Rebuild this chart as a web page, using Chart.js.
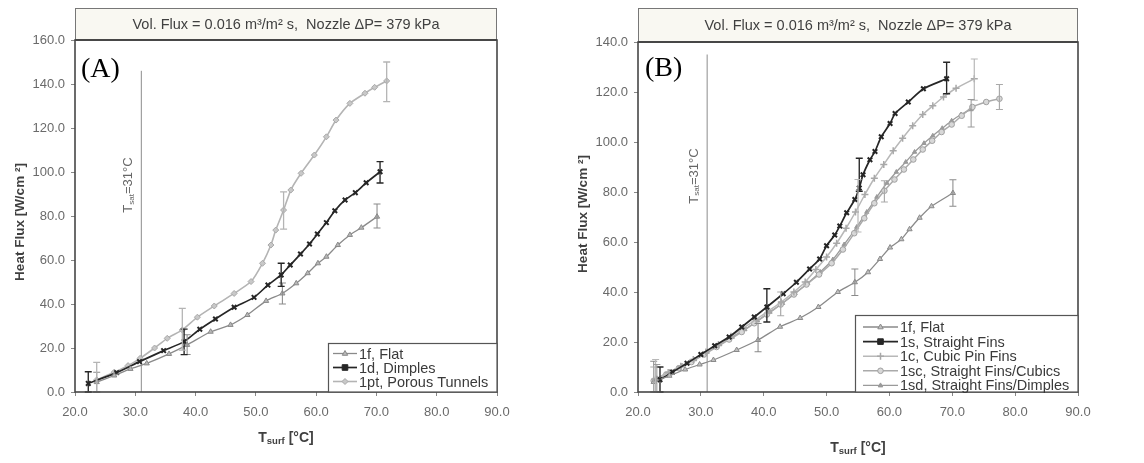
<!DOCTYPE html>
<html><head><meta charset="utf-8">
<script src="https://cdn.jsdelivr.net/npm/chart.js@4.4.1/dist/chart.umd.min.js"></script>
<style>
html,body{margin:0;padding:0;background:#fff;width:1144px;height:463px;overflow:hidden}
#a{position:absolute;left:0;top:0;width:560px;height:463px}
#b{position:absolute;left:560px;top:0;width:584px;height:463px}
</style></head><body>
<div id="a"><canvas id="ca"></canvas></div>
<div id="b"><canvas id="cb"></canvas></div>
<script>
// ---------- common ----------
const headerText = 'Vol. Flux = 0.016 m\u00B3/m\u00B2 s,  Nozzle \u0394P= 379 kPa';
const yTitle = 'Heat Flux [W/cm \u00B2]';
const xTicks = [20, 30, 40, 50, 60, 70, 80, 90];
const tSat = 31;

// ---------- panel A ----------
const flatA_T = [23.6, 26.5, 29.2, 31.9, 35.6, 38.6, 42.5, 45.8, 48.6, 51.7, 54.4, 56.7, 58.6, 60.3, 61.7, 63.6, 65.6, 67.5, 70.1];
const flatA_Q = [4.5, 7.5, 10.5, 13.0, 17.3, 21.4, 27.4, 30.5, 35.0, 41.4, 44.8, 49.4, 54.0, 58.5, 61.5, 66.8, 71.4, 74.7, 79.7];
const flatA_err = [[23.6, 0, 9], [38.6, 17, 26], [54.4, 40, 49.5], [70.1, 74.5, 85.5]];

const dimA_T = [22.2, 26.9, 30.7, 34.7, 38.1, 40.7, 43.3, 46.4, 49.7, 52.0, 54.2, 55.7, 57.4, 58.9, 60.2, 61.7, 63.1, 64.8, 66.5, 68.3, 70.6];
const dimA_Q = [3.9, 8.8, 13.8, 18.8, 22.9, 28.5, 33.2, 38.5, 43.0, 48.6, 53.2, 57.7, 62.7, 67.3, 71.8, 77.0, 82.4, 87.3, 90.6, 95.1, 100.1];
const dimA_err = [[22.2, 0, 9.2], [38.1, 17, 28.6], [54.2, 48, 58.5], [70.6, 95, 104.7]];

const porA_T = [23.6, 26.5, 28.8, 30.8, 33.2, 35.3, 37.8, 40.3, 43.1, 46.4, 49.2, 51.1, 52.5, 53.3, 54.6, 55.8, 57.5, 59.7, 61.7, 63.3, 65.6, 68.1, 69.7, 71.7];
const porA_Q = [5.5, 9.0, 12.0, 15.3, 20.0, 24.4, 28.2, 34.0, 39.1, 44.8, 50.2, 58.5, 66.8, 73.6, 82.7, 91.8, 99.4, 107.7, 116.0, 123.6, 131.2, 135.8, 138.5, 141.4];
const porA_err = [[23.6, 0, 13.5], [37.8, 19, 38], [54.6, 74, 91], [71.7, 132, 150]];

// ---------- panel B ----------
const flatB_T = [22.5, 25.0, 27.5, 29.8, 32.0, 35.7, 39.1, 42.6, 45.8, 48.7, 51.8, 54.5, 56.6, 58.5, 60.1, 61.9, 63.2, 64.8, 66.7, 70.1];
const flatB_Q = [4.0, 6.5, 9.0, 11.0, 12.8, 16.8, 20.8, 26.1, 29.6, 34.0, 40.0, 43.9, 47.9, 53.2, 57.8, 61.1, 65.1, 69.7, 74.3, 79.6];
const flatB_err = [[22.5, 0, 12.3], [39.1, 16.1, 27.4], [54.5, 38.6, 49.2], [70.1, 74.3, 84.9]];

const sB_T = [23.5, 25.5, 27.8, 30.0, 32.2, 34.5, 36.5, 38.5, 40.5, 43.1, 45.2, 47.3, 48.9, 50.0, 51.3, 52.1, 53.2, 54.5, 55.2, 55.8, 56.9, 57.7, 58.7, 60.1, 60.9, 63.0, 65.4, 69.1];
const sB_Q = [4.9, 8.0, 11.5, 15.0, 18.5, 22.0, 26.0, 30.0, 34.0, 39.3, 43.9, 49.2, 53.2, 58.5, 62.8, 66.4, 71.7, 77.0, 81.6, 86.9, 92.9, 96.2, 102.1, 107.4, 111.4, 116.0, 121.3, 125.3];
const sB_err = [[23.5, 0, 10], [40.5, 28, 41.3], [55.2, 80.3, 93.5], [69.1, 119.3, 131.9]];

const cB_T = [22.8, 24.8, 26.8, 28.8, 30.8, 32.8, 34.8, 36.8, 38.8, 40.8, 42.8, 44.8, 46.6, 48.3, 50.0, 51.6, 53.1, 54.6, 56.1, 57.6, 59.1, 60.6, 62.1, 63.7, 65.3, 66.9, 68.6, 70.6, 73.5];
const cB_Q = [5.0, 7.8, 10.3, 13.0, 16.0, 19.0, 22.3, 25.7, 29.0, 32.5, 36.0, 40.0, 44.0, 49.0, 54.0, 59.5, 65.5, 72.0, 79.0, 85.5, 91.0, 96.5, 101.5, 106.5, 111.0, 114.5, 118.0, 121.5, 125.3];
const cB_err = [[22.8, 0, 13], [55.0, 64, 85], [73.5, 116.7, 133.2]];

const scB_T = [22.5, 24.5, 26.5, 28.5, 30.5, 32.5, 34.5, 36.5, 38.5, 40.5, 42.7, 44.8, 46.8, 48.8, 50.8, 52.6, 54.4, 56.0, 57.6, 59.2, 60.8, 62.3, 63.8, 65.3, 66.8, 68.3, 69.9, 71.5, 73.2, 75.4, 77.5];
const scB_Q = [4.5, 7.0, 9.5, 12.0, 15.0, 18.0, 21.0, 24.0, 27.5, 31.0, 35.0, 39.0, 43.0, 47.0, 51.5, 57.0, 63.5, 69.5, 75.5, 80.5, 85.0, 89.0, 93.0, 97.0, 100.5, 104.0, 107.0, 110.5, 114.0, 116.0, 117.3];
const scB_err = [[22.5, 0, 10], [42.7, 30.5, 40], [59.2, 76, 84.5], [77.5, 113, 123]];

const sdB_T = [23.0, 25.0, 27.0, 29.0, 31.0, 33.0, 35.0, 37.0, 39.0, 41.0, 43.0, 45.0, 47.0, 49.0, 51.0, 52.8, 54.8, 56.4, 58.0, 59.6, 61.1, 62.6, 64.0, 65.5, 66.9, 68.4, 69.9, 71.4, 73.0];
const sdB_Q = [5.5, 8.0, 10.5, 13.0, 16.0, 19.0, 22.0, 25.0, 28.5, 32.0, 35.5, 39.5, 43.5, 48.0, 53.0, 59.0, 66.0, 72.0, 78.0, 83.6, 88.0, 92.0, 96.0, 99.5, 102.5, 105.5, 108.5, 111.0, 113.0];
const sdB_err = [[23.0, 0, 11], [73.0, 106, 117]];

// ---------- helpers ----------
const pts = (T, Q) => T.map((t, i) => ({x: t, y: Q[i]}));
const FONT = '"Liberation Sans", Arial, sans-serif';

function marker(ctx, style, x, y, r, stroke, fill, lw) {
  ctx.save();
  ctx.strokeStyle = stroke; ctx.fillStyle = fill; ctx.lineWidth = lw;
  ctx.beginPath();
  if (style === 'triangle') {
    ctx.moveTo(x, y - r); ctx.lineTo(x + r * 0.9, y + r * 0.6); ctx.lineTo(x - r * 0.9, y + r * 0.6); ctx.closePath();
    ctx.fill(); ctx.stroke();
  } else if (style === 'rect') {
    ctx.rect(x - r, y - r, 2 * r, 2 * r); ctx.fill(); ctx.stroke();
  } else if (style === 'rectRot') {
    ctx.moveTo(x, y - r); ctx.lineTo(x + r, y); ctx.lineTo(x, y + r); ctx.lineTo(x - r, y); ctx.closePath();
    ctx.fill(); ctx.stroke();
  } else if (style === 'cross') {
    ctx.moveTo(x - r, y); ctx.lineTo(x + r, y); ctx.moveTo(x, y - r); ctx.lineTo(x, y + r); ctx.stroke();
  } else if (style === 'crossRot') {
    ctx.moveTo(x - r, y - r); ctx.lineTo(x + r, y + r); ctx.moveTo(x + r, y - r); ctx.lineTo(x - r, y + r); ctx.stroke();
  } else {
    ctx.arc(x, y, r, 0, Math.PI * 2); ctx.fill(); ctx.stroke();
  }
  ctx.restore();
}

function series(label, T, Q, err, st) {
  return {
    label, data: pts(T, Q), errs: err, showLine: true, tension: 0.2,
    borderColor: st.color, borderWidth: st.lw,
    pointStyle: st.ps, pointRadius: st.r, pointBorderColor: st.pc || st.color,
    pointBackgroundColor: st.pf || st.color, pointBorderWidth: st.pw || 1,
    legendStyle: st.legend || {ps: st.ps, r: st.r, pf: st.pf || st.color, pc: st.pc || st.color, pw: st.pw || 1}
  };
}
function satLine(top) {
  return {label: '_sat', data: [{x: tSat, y: 0}, {x: tSat, y: top}], showLine: true,
          borderColor: '#8c8c8c', borderWidth: 1, pointRadius: 0, skipLegend: true};
}

// error bars
const errPlugin = {
  id: 'errbars',
  afterDatasetsDraw(chart) {
    const ctx = chart.ctx, xs = chart.scales.x, ys = chart.scales.y;
    chart.data.datasets.forEach(ds => {
      if (!ds.errs) return;
      ctx.save();
      ctx.strokeStyle = ds.borderColor; ctx.lineWidth = Math.max(1, ds.borderWidth * 0.8);
      ds.errs.forEach(([t, lo, hi]) => {
        const px = xs.getPixelForValue(t), y1 = ys.getPixelForValue(lo), y2 = ys.getPixelForValue(hi);
        ctx.beginPath();
        ctx.moveTo(px, y1); ctx.lineTo(px, y2);
        ctx.moveTo(px - 3.5, y1); ctx.lineTo(px + 3.5, y1);
        ctx.moveTo(px - 3.5, y2); ctx.lineTo(px + 3.5, y2);
        ctx.stroke();
      });
      ctx.restore();
    });
  }
};

// decoration: header, border, titles, panel label, legend
const decoPlugin = {
  id: 'deco',
  afterDraw(chart, args, o) {
    const ctx = chart.ctx, a = chart.chartArea, xs = chart.scales.x, ys = chart.scales.y;
    ctx.save();
    // header box
    ctx.fillStyle = '#f9f8f2';
    ctx.fillRect(a.left, o.headTop, a.right - a.left, a.top - o.headTop);
    ctx.strokeStyle = '#777'; ctx.lineWidth = 1;
    ctx.strokeRect(a.left + 0.5, o.headTop + 0.5, a.right - a.left - 1, a.top - o.headTop);
    ctx.fillStyle = '#404040'; ctx.font = '14.5px ' + FONT; ctx.textAlign = 'center'; ctx.textBaseline = 'middle';
    ctx.fillText(headerText, (a.left + a.right) / 2, (o.headTop + a.top) / 2 + 1);
    // plot frame
    ctx.strokeStyle = '#474747'; ctx.lineWidth = 1.6;
    ctx.strokeRect(a.left, a.top, a.right - a.left, a.bottom - a.top);
    ctx.lineWidth = 2.2; ctx.beginPath(); ctx.moveTo(a.left, a.top); ctx.lineTo(a.right, a.top); ctx.stroke();
    // panel label
    ctx.fillStyle = '#000'; ctx.font = '28px "Liberation Serif", "Times New Roman", serif';
    ctx.textAlign = 'left'; ctx.textBaseline = 'alphabetic';
    ctx.fillText(o.panel, o.panelX, o.panelY);
    // T_sat label (rotated)
    const sx = xs.getPixelForValue(tSat) - 13;
    ctx.save();
    ctx.translate(sx, o.satY); ctx.rotate(-Math.PI / 2);
    ctx.fillStyle = '#666'; ctx.textBaseline = 'middle';
    ctx.font = '13px ' + FONT;
    const w1 = ctx.measureText('T').width;
    ctx.font = '8px ' + FONT; const w2 = ctx.measureText('sat').width;
    ctx.font = '13px ' + FONT; const w3 = ctx.measureText('=31\u00B0C').width;
    let x0 = -(w1 + w2 + w3) / 2;
    ctx.textAlign = 'left';
    ctx.fillText('T', x0, 0);
    ctx.font = '8px ' + FONT; ctx.fillText('sat', x0 + w1, 3);
    ctx.font = '13px ' + FONT; ctx.fillText('=31\u00B0C', x0 + w1 + w2, 0);
    ctx.restore();
    // x title
    ctx.fillStyle = '#404040'; ctx.textBaseline = 'middle'; ctx.textAlign = 'left';
    ctx.font = 'bold 14px ' + FONT; const a1 = ctx.measureText('T').width;
    ctx.font = 'bold 9.5px ' + FONT; const a2 = ctx.measureText('surf').width;
    ctx.font = 'bold 14px ' + FONT; const a3 = ctx.measureText(' [\u00B0C]').width;
    const cx = (a.left + a.right) / 2; let xx = cx - (a1 + a2 + a3) / 2;
    ctx.fillText('T', xx, o.xTitleY);
    ctx.font = 'bold 9.5px ' + FONT; ctx.fillText('surf', xx + a1, o.xTitleY + 3);
    ctx.font = 'bold 14px ' + FONT; ctx.fillText(' [\u00B0C]', xx + a1 + a2, o.xTitleY);
    // y title
    ctx.save();
    ctx.translate(o.yTitleX, (a.top + a.bottom) / 2 + o.yTitleDy); ctx.rotate(-Math.PI / 2);
    ctx.textAlign = 'center'; ctx.font = 'bold 13.5px ' + FONT; ctx.fillStyle = '#404040';
    ctx.fillText(yTitle, 0, 0);
    ctx.restore();
    // legend
    const L = o.legend;
    const items = chart.data.datasets.filter(d => !d.skipLegend);
    ctx.fillStyle = '#fff';
    ctx.fillRect(L.x, L.y, a.right - L.x, a.bottom - L.y);
    ctx.strokeStyle = '#555'; ctx.lineWidth = 1.2;
    ctx.strokeRect(L.x + 0.5, L.y + 0.5, a.right - L.x - 0.5, a.bottom - L.y - 0.5);
    items.forEach((d, i) => {
      const y = L.row0 + i * L.dy;
      ctx.strokeStyle = d.borderColor; ctx.lineWidth = d.borderWidth;
      ctx.beginPath(); ctx.moveTo(L.lx0, y); ctx.lineTo(L.lx1, y); ctx.stroke();
      const s = d.legendStyle;
      marker(ctx, s.ps, (L.lx0 + L.lx1) / 2, y, s.r, s.pc, s.pf, s.pw);
      ctx.fillStyle = '#3a3a3a'; ctx.font = L.font + 'px ' + FONT; ctx.textAlign = 'left'; ctx.textBaseline = 'middle';
      ctx.fillText(d.label, L.tx, y + 1);
    });
    ctx.restore();
  }
};

function scales(ymax, yw) {
  const tickFont = {family: FONT, size: 13};
  return {
    x: {type: 'linear', min: 20, max: 90, afterFit: s => { s.height = 71; },
        afterBuildTicks: s => { s.ticks = xTicks.map(v => ({value: v})); },
        ticks: {callback: v => Number(v).toFixed(1), color: '#6a6a6a', font: tickFont, padding: 9, maxRotation: 0, autoSkip: false},
        grid: {display: true, drawOnChartArea: false, drawTicks: true, tickLength: 4, color: '#888'},
        border: {display: false}},
    y: {type: 'linear', min: 0, max: ymax, afterFit: s => { s.width = yw; },
        ticks: {stepSize: 20, callback: v => Number(v).toFixed(1), color: '#6a6a6a', font: tickFont, padding: 6},
        grid: {display: true, drawOnChartArea: false, drawTicks: true, tickLength: 4, color: '#888'},
        border: {display: false}}
  };
}

Chart.register(errPlugin, decoPlugin);

// ---------- chart A ----------
new Chart(document.getElementById('ca'), {
  type: 'scatter',
  data: {datasets: [
    series('1f, Flat', flatA_T, flatA_Q, flatA_err, {color: '#8a8a8a', lw: 1.3, ps: 'triangle', r: 3, pf: '#b8b8b8', pc: '#8a8a8a'}),
    series('1d, Dimples', dimA_T, dimA_Q, dimA_err, {color: '#262626', lw: 1.7, ps: 'crossRot', r: 3.2, pw: 2,
      legend: {ps: 'rect', r: 2.8, pf: '#262626', pc: '#262626', pw: 1}}),
    series('1pt, Porous Tunnels', porA_T, porA_Q, porA_err, {color: '#b4b4b4', lw: 1.6, ps: 'rectRot', r: 3, pf: '#c8c8c8', pc: '#a8a8a8'}),
    satLine(146)
  ]},
  options: {
    responsive: true, maintainAspectRatio: false, animation: false,
    layout: {padding: {left: 0, right: 63, top: 40, bottom: 0}},
    scales: scales(160, 75),
    plugins: {legend: {display: false}, tooltip: {enabled: false},
      deco: {headTop: 8, panel: '(A)', panelX: 81, panelY: 77, satY: 185, xTitleY: 438, yTitleX: 20, yTitleDy: 6,
        legend: {x: 328, y: 343, row0: 353.5, dy: 14, lx0: 333, lx1: 357, tx: 359, font: 14.5}}}
  }
});

// ---------- chart B ----------
new Chart(document.getElementById('cb'), {
  type: 'scatter',
  data: {datasets: [
    series('1f, Flat', flatB_T, flatB_Q, flatB_err, {color: '#8a8a8a', lw: 1.3, ps: 'triangle', r: 3, pf: '#c0c0c0', pc: '#8a8a8a'}),
    series('1s, Straight Fins', sB_T, sB_Q, sB_err, {color: '#262626', lw: 1.7, ps: 'crossRot', r: 3.2, pw: 2,
      legend: {ps: 'rect', r: 2.8, pf: '#262626', pc: '#262626', pw: 1}}),
    series('1c, Cubic Pin Fins', cB_T, cB_Q, cB_err, {color: '#b8b8b8', lw: 1.5, ps: 'cross', r: 3.5, pw: 1.5, pc: '#a8a8a8'}),
    series('1sc, Straight Fins/Cubics', scB_T, scB_Q, scB_err, {color: '#aaaaaa', lw: 1.5, ps: 'circle', r: 2.8, pf: '#d8d8d8', pc: '#a0a0a0'}),
    series('1sd, Straight Fins/Dimples', sdB_T, sdB_Q, sdB_err, {color: '#9a9a9a', lw: 1.3, ps: 'triangle', r: 2.5, pf: '#9a9a9a', pc: '#9a9a9a'}),
    satLine(135)
  ]},
  options: {
    responsive: true, maintainAspectRatio: false, animation: false,
    layout: {padding: {left: 0, right: 66, top: 42, bottom: 0}},
    scales: scales(140, 78),
    plugins: {legend: {display: false}, tooltip: {enabled: false},
      deco: {headTop: 8, panel: '(B)', panelX: 85, panelY: 76, satY: 176, xTitleY: 448, yTitleX: 23, yTitleDy: -3,
        legend: {x: 295, y: 315, row0: 327, dy: 14.6, lx0: 303, lx1: 338, tx: 340, font: 14.5}}}
  }
});
</script>
</body></html>
